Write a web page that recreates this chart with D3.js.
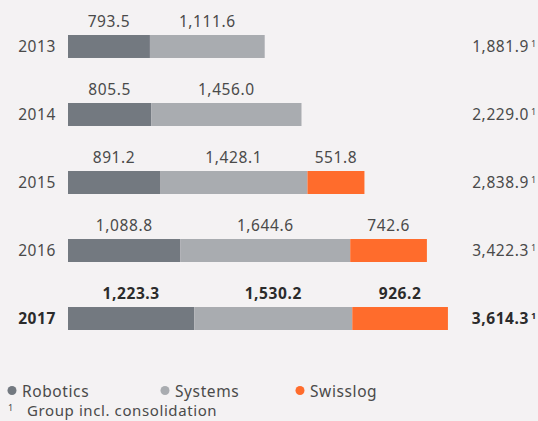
<!DOCTYPE html>
<html>
<head>
<meta charset="utf-8">
<script src="https://cdn.jsdelivr.net/npm/d3@7"></script>
<style>
	body { margin: 0; background: #f4f2f3; }
	svg { display: block; font-family: "Noto Sans", "Open Sans", sans-serif; letter-spacing: 0.6px; }
</style>
</head>
<body>
<svg id="chart" width="538" height="421"></svg>
<script>
const years = ['2013', '2014', '2015', '2016', '2017'];
const series = ['Robotics', 'Systems', 'Swisslog'];
const robotics = [793.5, 805.5, 891.2, 1088.8, 1223.3];
const systems = [1111.6, 1456.0, 1428.1, 1644.6, 1530.2];
const swisslog = [0, 0, 551.8, 742.6, 926.2];
const totals = [1881.9, 2229.0, 2838.9, 3422.3, 3614.3];
const colors = ['#737980', '#a9acb0', '#ff6c2c'];

const svg = d3.select('#chart');
const fmt = d3.format(',.1f');

const x = d3.scaleLinear().domain([0, 4000]).range([68, 481]);
const y = d3.scaleBand().domain(years).range([35, 330]).paddingInner(0.662).paddingOuter(0);
const bh = y.bandwidth();

const rows = years.map(function(yr, i) {
	var vals = [robotics[i], systems[i], swisslog[i]];
	var x0 = 0;
	var segs = vals.map(function(v, j) {
		var s = { key: series[j], v: v, x0: x0, x1: x0 + v, c: colors[j] };
		x0 += v;
		return s;
	}).filter(function(s) { return s.v > 0; });
	return { year: yr, segs: segs, total: totals[i], bold: yr === '2017' };
});

const g = svg.selectAll('g.row').data(rows).enter().append('g')
	.attr('class', 'row')
	.attr('transform', function(d) { return 'translate(0,' + y(d.year) + ')'; });

g.selectAll('rect').data(function(d) { return d.segs; }).enter().append('rect')
	.attr('x', function(d) { return x(d.x0); })
	.attr('width', function(d) { return x(d.x1) - x(d.x0); })
	.attr('y', 0)
	.attr('height', bh)
	.attr('fill', function(d) { return d.c; });

g.each(function(d) {
	var row = d3.select(this);
	var col = d.bold ? '#2b2b2b' : '#4a4a4a';
	var fw = d.bold ? 700 : 400;
	row.selectAll('text.val').data(d.segs).enter().append('text')
		.attr('class', 'val')
		.attr('x', function(s) { return (x(s.x0) + x(s.x1)) / 2; })
		.attr('y', -8)
		.attr('text-anchor', 'middle')
		.attr('font-size', 15.5)
		.attr('font-weight', fw)
		.attr('fill', col)
		.text(function(s) { return fmt(s.v); });
	row.append('text')
		.attr('x', 56)
		.attr('y', bh / 2 + 6)
		.attr('text-anchor', 'end')
		.attr('font-size', 15.5)
		.attr('font-weight', fw)
		.attr('fill', col)
		.text(d.year);
	row.append('text')
		.attr('x', 529)
		.attr('y', bh / 2 + 6)
		.attr('text-anchor', 'end')
		.attr('font-size', 15.5)
		.attr('font-weight', fw)
		.attr('fill', col)
		.text(fmt(d.total));
	row.append('text')
		.attr('x', 531)
		.attr('y', bh / 2 + 1)
		.attr('font-size', 9)
		.attr('font-weight', fw)
		.attr('fill', col)
		.text('1');
});

// legend
const legX = [12, 165, 300];
const leg = svg.selectAll('g.leg').data(series).enter().append('g')
	.attr('class', 'leg')
	.attr('transform', function(d, i) { return 'translate(' + legX[i] + ',391)'; });
leg.append('circle').attr('r', 4.5).attr('cy', -0.5).attr('fill', function(d, i) { return colors[i]; });
leg.append('text')
	.attr('x', 10)
	.attr('y', 5.5)
	.attr('font-size', 15.5)
	.attr('fill', '#4a4a4a')
	.text(function(d) { return d; });

svg.append('text').attr('x', 8).attr('y', 411).attr('font-size', 9).attr('fill', '#4a4a4a').text('1');
svg.append('text').attr('x', 27).attr('y', 416).attr('font-size', 15).attr('fill', '#4a4a4a').text('Group incl. consolidation');
</script>
</body>
</html>
